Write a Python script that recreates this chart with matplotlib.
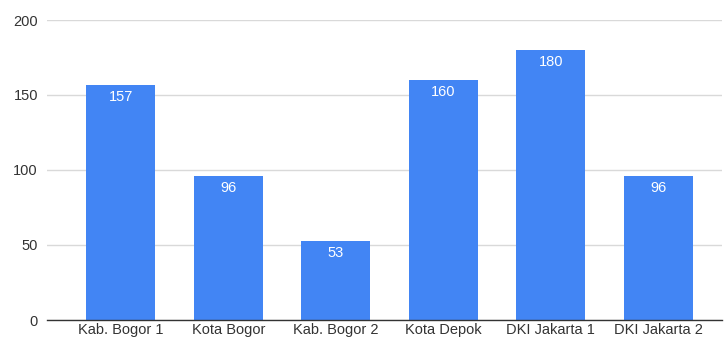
import matplotlib
matplotlib.use("Agg")
import matplotlib.pyplot as plt

categories = ["Kab. Bogor 1", "Kota Bogor", "Kab. Bogor 2", "Kota Depok", "DKI Jakarta 1", "DKI Jakarta 2"]
values = [157, 96, 53, 160, 180, 96]
yticks = [0, 50, 100, 150, 200]

plt.rcParams["font.family"] = ["Liberation Sans", "DejaVu Sans"]

W, H = 724, 338
fig = plt.figure(figsize=(W / 100, H / 100), dpi=100)
ax = fig.add_axes([47 / W, 1 - 320 / H, (722 - 47) / W, 300 / H])

x = list(range(len(categories)))
ax.bar(x, values, width=0.64, color="#4285F4", zorder=3)

for xi, v in zip(x, values):
    ax.annotate(str(v), (xi, v), xytext=(0, -8.8), textcoords="offset points",
                ha="center", va="center", color="white", fontsize=10.5, zorder=4)

ax.set_ylim(0, 200)
ax.set_xlim(-0.686, 5.593)
ax.set_yticks(yticks)
ax.set_xticks(x)
ax.set_xticklabels(categories)
ax.tick_params(axis="both", length=0, labelsize=10.5, colors="#333333")
ax.tick_params(axis="y", pad=6.5)
ax.tick_params(axis="x", pad=2.5)
ax.yaxis.grid(True, color="#d9d9d9", linewidth=1, zorder=0)
for side in ["top", "right", "left"]:
    ax.spines[side].set_visible(False)
ax.spines["bottom"].set_color("#333333")
ax.spines["bottom"].set_linewidth(1)
ax.spines["bottom"].set_zorder(5)

fig.savefig("out.png", dpi=100)
